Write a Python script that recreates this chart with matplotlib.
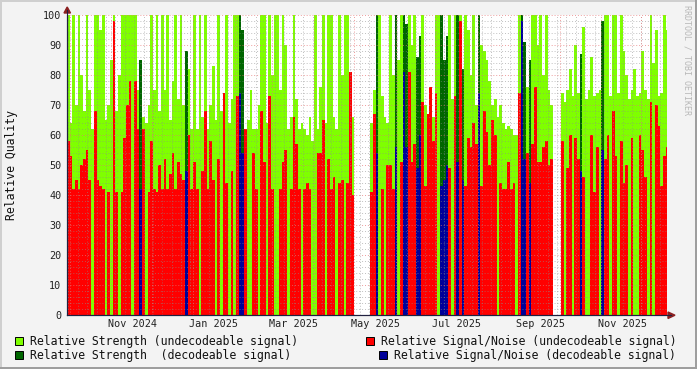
import datetime as dt
import numpy as np
import matplotlib
matplotlib.use("Agg")
import matplotlib.pyplot as plt
import matplotlib.dates as mdates
from matplotlib.patches import Polygon, Rectangle

nan = float("nan")

# ---------------- data ----------------
start_date = dt.date(2024, 9, 29)
end_date = dt.date(2025, 12, 20)
bin_days = 2

strength = [
    100, 64, 100, 70, 100, 80, 68, 100, 75, 62, 100, 100, 95, 100, 65, 70, 85, 100, 68, 80,
    100, 100, 100, 100, 100, 100, 75, 85, 66, 64, 70, 100, 75, 100, 68, 100, 75, 100, 65, 78,
    100, 72, 100, 70, 88,
    82, 62, 100, 62, 100, 66, 100, 62, 70, 83, 65, 100, 68, 62, 100, 64, 72, 100, 100, 100,
    95, 62, 65, 75, 62, 62, 70, 100, 100, 64, 100, 80, 100, 100, 75, 100, 90, 62, 66, 100,
    72, 62, 64, 62, 60, 66,
    58, 100, 62, 76, 100, 64, 100, 100, 66, 62, 100, 80, 100, 100, 62, 66, nan, nan, nan, nan,
    nan, nan, 64, 75, 100, 100, 73, 66, 64, 100, 80, 100, 85, 100, 100, 97, 100, 90, 100, 86,
    93, 100, 70, 64, 75, 66,
    100, 100, 100, 85, 93, 100, 72, 100, 100, 100, 82, 100, 95, 80, 100, 70, 100, 90, 88, 85,
    78, 70, 72, 66, 70, 64, 62, 63, 62, 60, 60, 100, 100, 91, 76, 85, 100, 100, 90, 100,
    80, 100, 75, 70, nan, nan,
    nan, 74, 71, 75, 82, 73, 90, 74, 87, 96, 72, 75, 86, 73, 74, 75, 98, 100, 100, 73,
    100, 100, 74, 100, 88, 80, 72, 75, 82, 73, 74, 88, 75, 72, 100, 84, 95, 73, 74, 100,
    95,
]

snr = [
    58, 53, 42, 45, 42, 50, 52, 55, 45, 0, 68, 45, 43, 42, 0, 41, 0, 98, 41, 0,
    41, 59, 70, 78, 0, 78, 62, 42, 62, 0, 41, 58, 42, 41, 50, 42, 52, 42, 47, 54,
    42, 51, 47, 45, 48,
    60, 42, 51, 42, 0, 48, 68, 42, 58, 45, 0, 52, 0, 74, 44, 0, 48, 0, 73, 74,
    54, 62, 0, 0, 54, 42, 0, 68, 51, 0, 73, 42, 0, 0, 42, 51, 55, 0, 42, 66,
    57, 42, 0, 42, 44, 42,
    0, 0, 54, 54, 65, 0, 52, 42, 46, 0, 44, 45, 0, 44, 81, 40, nan, nan, nan, nan,
    nan, nan, 41, 67, 54, 0, 42, 0, 50, 50, 42, 56, 0, 51, 81, 56, 81, 51, 57, 49,
    60, 71, 43, 67, 76, 58,
    74, 0, 43, 45, 50, 49, 0, 73, 51, 98, 45, 43, 59, 56, 64, 57, 74, 43, 68, 61,
    50, 65, 60, 0, 44, 42, 42, 51, 42, 44, 0, 74, 98, 52, 54, 44, 57, 76, 51, 51,
    56, 58, 50, 52, nan, nan,
    nan, 58, 0, 49, 60, 0, 59, 52, 48, 46, 0, 0, 60, 41, 56, 0, 55, 52, 60, 0,
    68, 53, 0, 58, 44, 50, 0, 59, 0, 0, 60, 55, 46, 0, 71, 0, 70, 63, 43, 53,
    56,
]

decodeable_bins = [27, 44, 64, 65, 115, 122, 125, 126, 130, 131,
                   139, 140, 141, 145, 147, 153, 169, 170, 172, 191, 199]

label_months = [(2024, 11), (2025, 1), (2025, 3), (2025, 5), (2025, 7), (2025, 9), (2025, 11)]
month_labels = ["Nov 2024", "Jan 2025", "Mar 2025", "May 2025", "Jul 2025", "Sep 2025", "Nov 2025"]
y_ticks = [0, 10, 20, 30, 40, 50, 60, 70, 80, 90, 100]

legend_items = [
    ("Relative Strength (undecodeable signal)", "#7FFF00"),
    ("Relative Signal/Noise (undecodeable signal)", "#FF0000"),
    ("Relative Strength  (decodeable signal)", "#006600"),
    ("Relative Signal/Noise (decodeable signal)", "#000099"),
]

# ---------------- figure ----------------
W, H = 697, 369
FONT = "DejaVu Sans Mono"
fig = plt.figure(figsize=(W / 100, H / 100), dpi=100, facecolor="#F3F3F3")
ax = fig.add_axes([67 / W, (H - 315) / H, 600 / W, 300 / H])
ax.set_facecolor("white")

n_bins = len(strength)
dates = [start_date + dt.timedelta(days=bin_days * i) for i in range(n_bins)]
xnum = mdates.date2num(dates)
s_arr = np.array(strength, dtype=float)
n_arr = np.array(snr, dtype=float)
dec = np.zeros(n_bins, dtype=bool)
dec[decodeable_bins] = True
valid = ~np.isnan(s_arr)

s_col = np.where(dec, legend_items[2][1], legend_items[0][1])
n_col = np.where(dec, legend_items[3][1], legend_items[1][1])

ax.bar(xnum[valid], s_arr[valid], width=bin_days, align="edge",
       color=list(s_col[valid]), linewidth=0, zorder=2)
ax.bar(xnum[valid], n_arr[valid], width=bin_days, align="edge",
       color=list(n_col[valid]), linewidth=0, zorder=3)

x0 = mdates.date2num(start_date)
x1 = mdates.date2num(end_date)
ax.set_xlim(x0, x1)
ax.set_ylim(0, 100)

# grid: minor weekly / every 2 units, major monthly / every 10 units
dash = (0, (1, 2))
d = start_date
while d <= end_date:
    if d.weekday() == 0:
        ax.axvline(mdates.date2num(d), color=(0.55, 0.55, 0.55, 0.55), lw=0.7,
                   ls=dash, zorder=4)
    d += dt.timedelta(days=1)
for yv in range(2, 100, 2):
    if yv % 10:
        ax.axhline(yv, color=(0.55, 0.55, 0.55, 0.55), lw=0.7, ls=dash, zorder=4)
for yv in range(10, 101, 10):
    ax.axhline(yv, color=(0.9, 0.45, 0.45, 0.7), lw=0.7, ls=dash, zorder=4)
y, m = 2024, 10
while dt.date(y, m, 1) <= end_date:
    ax.axvline(mdates.date2num(dt.date(y, m, 1)), color=(0.9, 0.45, 0.45, 0.7),
               lw=0.7, ls=dash, zorder=4)
    m += 1
    if m > 12:
        m, y = 1, y + 1

# tick labels (centered on the month)
label_pos = [mdates.date2num(dt.date(yy, mm, 1)) + 15.5 for yy, mm in label_months]
ax.set_xticks(label_pos)
ax.set_xticklabels(month_labels, fontsize=7.3, family=FONT, color="#222222")
ax.set_yticks(y_ticks)
ax.set_yticklabels([str(v) for v in y_ticks], fontsize=7.3, family=FONT, color="#222222")
ax.tick_params(axis="x", length=0, pad=3)
ax.tick_params(axis="y", length=0, pad=4)

for sp in ["top", "right"]:
    ax.spines[sp].set_visible(False)
for sp in ["left", "bottom"]:
    ax.spines[sp].set_color("#202040")
    ax.spines[sp].set_linewidth(0.8)
    ax.spines[sp].set_zorder(5)


def fx(px):
    return px / W


def fy(py):
    return 1 - py / H


# axis extensions and arrows
fig.add_artist(plt.Line2D([fx(67), fx(67)], [fy(315), fy(10)], color="#202040", lw=0.8))
fig.add_artist(plt.Line2D([fx(67), fx(671)], [fy(315), fy(315)], color="#202040", lw=0.8))
fig.add_artist(Polygon([(fx(64), fy(13)), (fx(70.5), fy(13)), (fx(67.2), fy(7))],
                       closed=True, transform=fig.transFigure, color="#8B2020"))
fig.add_artist(Polygon([(fx(668), fy(312)), (fx(668), fy(318.5)), (fx(675), fy(315.2))],
                       closed=True, transform=fig.transFigure, color="#8B2020"))

# y label and watermark
fig.text(fx(12), fy(165), "Relative Quality", rotation=90, ha="center", va="center",
         fontsize=8.3, family=FONT, color="#111111")
fig.text(fx(687.5), fy(60), "RRDTOOL / TOBI OETIKER", rotation=270, ha="center",
         va="center", fontsize=6, family=FONT, color="#B8B8B8")

# legend
leg_pos = [((15, 337), (30, 341)), ((366, 337), (381, 341)),
           ((15, 351), (30, 355)), ((379, 351), (394, 355))]
for (label, color), ((sx, sy), (tx, ty)) in zip(legend_items, leg_pos):
    fig.add_artist(Rectangle((fx(sx), fy(sy + 8)), 8 / W, 8 / H, transform=fig.transFigure,
                             facecolor=color, edgecolor="black", lw=0.7))
    fig.text(fx(tx), fy(ty), label, ha="left", va="center", fontsize=8.3,
             family=FONT, color="#111111")

# frame shading
fig.add_artist(Rectangle((0, 0), 1, 2 / H, transform=fig.transFigure, color="#9E9E9E", lw=0))
fig.add_artist(Rectangle((1 - 2 / W, 0), 2 / W, 1, transform=fig.transFigure, color="#9E9E9E", lw=0))
fig.add_artist(Rectangle((0, 1 - 2 / H), 1 - 2 / W, 2 / H, transform=fig.transFigure, color="#CFCFCF", lw=0))
fig.add_artist(Rectangle((0, 2 / H), 2 / W, 1 - 4 / H, transform=fig.transFigure, color="#CFCFCF", lw=0))

fig.savefig("out.png", dpi=100, facecolor=fig.get_facecolor())
